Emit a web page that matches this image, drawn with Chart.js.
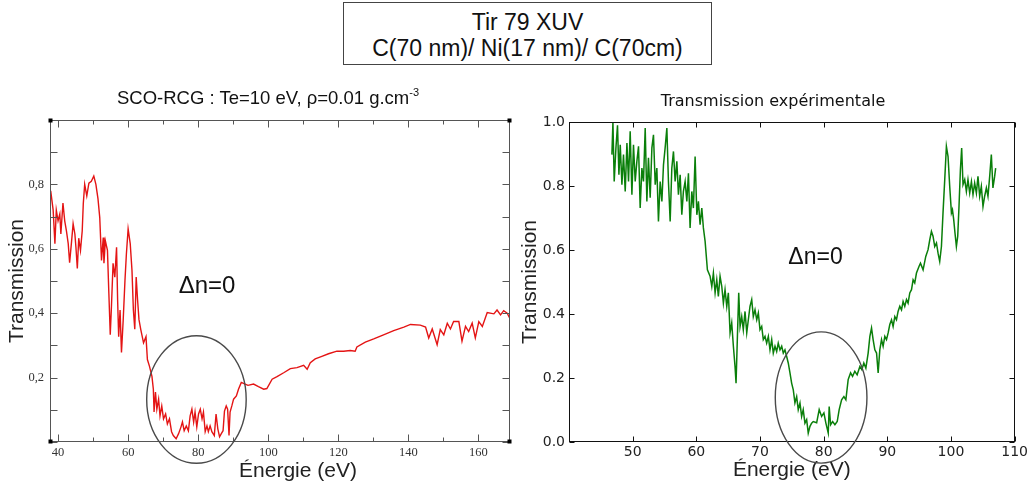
<!DOCTYPE html>
<html>
<head>
<meta charset="utf-8">
<script src="https://cdn.jsdelivr.net/npm/chart.js@4.4.1/dist/chart.umd.min.js"></script>
<style>
  body { margin: 0; width: 1030px; height: 483px; background: #fff; position: relative; overflow: hidden;
         font-family: "Liberation Sans", Arial, sans-serif; color: #111; }
  canvas { position: absolute; top: 80px; }
  #leftChart { left: 0; }
  #rightChart { left: 520px; }
  #box { position: absolute; left: 343px; top: 2px; width: 369px; height: 63px; box-sizing: border-box;
         border: 1px solid #444; text-align: center; font-size: 23px; line-height: 26px; padding-top: 6px; }
  .title { position: absolute; text-align: center; white-space: nowrap; }
  #t1 { left: 0; width: 536px; top: 87px; font-size: 18.5px; line-height: 22px; }
  #t1 sup { font-size: 11px; line-height: 0; vertical-align: 8px; }
  #t2 { left: 520px; width: 506px; top: 91px; font-family: "DejaVu Sans", sans-serif; font-size: 16px; line-height: 19px; }
  #xl { left: 198px; width: 200px; top: 459px; font-size: 21px; line-height: 21px; color: #222; }
  .dn { position: absolute; text-align: center; color: #111; }
</style>
</head>
<body>
<canvas id="leftChart" width="520" height="403"></canvas>
<canvas id="rightChart" width="510" height="403"></canvas>
<div id="box">Tir 79 XUV<br>C(70 nm)/ Ni(17 nm)/ C(70cm)</div>
<div class="title" id="t1">SCO-RCG : Te=10 eV, ρ=0.01 g.cm<sup>-3</sup></div>
<div class="title" id="t2">Transmission expérimentale</div>
<div class="title" id="xl">Énergie (eV)</div>
<div class="dn" style="left:150px; width:114px; top:273px; font-size:24px; line-height:24px;">Δn=0</div>
<div class="dn" style="left:760px; width:111px; top:245px; font-size:23px; line-height:23px;">Δn=0</div>
<script>
// SCO-RCG calculated transmission (left panel)
const leftEnergy = [37.9,38.6,39.1,39.5,40.0,40.5,40.8,41.4,41.9,42.4,
    42.9,43.3,43.8,44.3,44.8,45.1,45.5,45.9,46.4,46.9,
    47.2,47.6,48.2,48.8,49.5,50.2,50.8,51.4,51.9,52.4,
    52.9,53.1,53.5,54.1,54.5,54.9,55.2,55.7,56.2,56.7,
    57.0,57.3,57.7,58.1,58.6,59.1,59.5,60.0,60.6,61.1,
    61.5,61.9,62.3,62.7,63.1,63.6,64.4,65.1,65.5,66.1,
    66.8,67.2,67.4,67.8,68.2,68.7,69.1,69.6,70.1,70.7,
    71.2,71.8,72.4,72.9,73.7,74.4,75.1,75.5,76.0,76.6,
    77.2,77.7,78.2,78.7,79.1,79.6,80.1,80.6,81.1,81.5,
    82.0,82.5,82.9,83.4,83.9,84.6,85.1,85.6,86.1,86.6,
    87.1,87.5,88.0,88.4,88.8,89.1,89.6,90.1,90.9,91.5,
    92.3,93.4,94.2,95.8,97.2,98.7,99.6,101.1,102.5,104.4,
    106.3,108.2,110.1,111.1,112.0,113.4,115.3,117.2,119.6,121.5,
    123.4,124.8,125.3,127.7,130.1,132.9,135.8,138.7,140.6,143.4,
    144.9,145.8,146.8,148.2,149.1,150.1,151.1,152.0,152.9,154.4,
    155.3,156.3,157.2,158.2,159.1,160.1,161.1,162.5,164.4,165.3,
    166.3,167.2,168.2,168.9];
const leftTrans = [0.78,0.72,0.616,0.72,0.687,0.708,0.646,0.742,0.687,0.655,
    0.616,0.557,0.616,0.678,0.646,0.605,0.539,0.633,0.595,0.656,
    0.74,0.80,0.764,0.804,0.81,0.826,0.80,0.755,0.697,0.564,
    0.635,0.555,0.625,0.595,0.462,0.333,0.41,0.555,0.512,0.605,
    0.441,0.327,0.41,0.278,0.38,0.502,0.583,0.662,0.616,0.533,
    0.41,0.35,0.512,0.441,0.38,0.35,0.308,0.327,0.256,0.235,
    0.204,0.164,0.093,0.155,0.102,0.133,0.081,0.112,0.072,0.087,
    0.056,0.072,0.032,0.02,0.01,0.026,0.047,0.062,0.035,0.05,
    0.035,0.081,0.102,0.062,0.093,0.047,0.087,0.102,0.072,0.093,
    0.032,0.05,0.032,0.05,0.032,0.02,0.087,0.041,0.016,0.026,
    0.035,0.096,0.112,0.102,0.02,0.093,0.112,0.133,0.143,0.164,
    0.185,0.18,0.176,0.18,0.172,0.164,0.166,0.195,0.203,0.215,
    0.228,0.231,0.238,0.226,0.246,0.258,0.266,0.274,0.282,0.282,
    0.284,0.282,0.295,0.31,0.32,0.333,0.346,0.357,0.365,0.363,
    0.357,0.323,0.351,0.302,0.349,0.333,0.369,0.351,0.374,0.374,
    0.313,0.359,0.343,0.369,0.323,0.374,0.359,0.402,0.398,0.41,
    0.395,0.408,0.40,0.385];

// experimental transmission (right panel)
const rightEnergy = [46.74,46.9,47.1,47.37,47.62,47.84,48.05,48.31,48.56,48.83,
    49.1,49.35,49.61,49.88,50.13,50.4,50.66,50.92,51.18,51.45,
    51.7,51.97,52.23,52.48,52.75,53.02,53.27,53.54,53.8,54.05,
    54.32,54.59,54.84,55.1,55.37,55.62,55.89,56.15,56.41,56.67,
    56.94,57.19,57.46,57.72,57.97,58.24,58.51,58.76,59.02,59.29,
    59.54,59.81,60.08,60.33,60.59,60.86,61.11,61.38,61.74,62.16,
    62.43,62.68,62.95,63.21,63.46,63.73,64.0,64.25,64.51,64.78,
    65.03,65.3,65.56,65.82,66.08,66.24,66.44,66.66,66.87,67.13,
    67.38,67.65,67.92,68.17,68.43,68.7,68.95,69.22,69.49,69.74,
    70.0,70.27,70.52,70.79,71.05,71.31,71.57,71.84,72.09,72.36,
    72.62,72.87,73.14,73.41,73.66,73.92,74.19,74.44,74.71,74.97,
    75.23,75.49,75.76,76.01,76.28,76.54,76.79,77.06,77.33,77.58,
    77.85,78.11,78.36,78.9,79.3,79.68,80.04,80.35,80.72,80.87,
    81.09,81.41,81.77,82.13,82.44,82.82,83.18,83.49,83.85,84.23,
    84.54,84.9,85.26,85.69,86.0,86.31,86.63,86.99,87.26,87.52,
    87.77,88.04,88.31,88.56,88.82,89.09,89.34,89.61,89.87,90.13,
    90.39,90.66,90.91,91.18,91.44,91.69,91.96,92.23,92.48,92.74,
    93.01,93.26,93.53,93.8,94.05,94.31,94.58,94.99,95.21,95.62,
    96.04,96.4,96.67,96.93,97.18,97.45,97.72,97.97,98.23,98.5,
    98.75,99.02,99.28,99.54,99.8,100.07,100.23,100.43,100.63,100.85,
    101.06,101.26,101.48,101.68,101.89,102.16,102.42,102.67,102.94,103.21,
    103.46,103.72,103.99,104.24,104.51,104.77,105.03,105.29,105.56,105.81,
    106.08,106.34,106.59,106.86,107.02];
const rightTrans = [0.898,1.0,0.814,0.919,0.99,0.835,0.929,0.804,0.898,0.783,
    0.934,0.814,0.971,0.773,0.929,0.814,0.877,0.924,0.731,0.856,
    0.814,0.981,0.752,0.888,0.763,0.919,0.96,0.804,0.856,0.689,
    0.814,0.752,0.866,0.919,0.981,0.814,0.689,0.856,0.908,0.814,
    0.877,0.773,0.835,0.71,0.783,0.814,0.752,0.84,0.669,0.783,
    0.731,0.892,0.71,0.752,0.679,0.731,0.669,0.627,0.538,0.518,
    0.486,0.528,0.466,0.507,0.455,0.518,0.486,0.434,0.476,0.424,
    0.466,0.341,0.372,0.299,0.236,0.184,0.32,0.466,0.361,0.392,
    0.351,0.408,0.341,0.382,0.424,0.445,0.392,0.413,0.382,0.403,
    0.351,0.361,0.32,0.33,0.309,0.33,0.288,0.32,0.278,0.299,
    0.283,0.309,0.288,0.299,0.278,0.288,0.267,0.247,0.216,0.184,
    0.163,0.122,0.142,0.101,0.122,0.08,0.101,0.059,0.07,0.028,
    0.049,0.059,0.064,0.06,0.101,0.08,0.091,0.059,0.028,0.111,
    0.054,0.064,0.054,0.064,0.101,0.132,0.142,0.132,0.195,0.216,
    0.205,0.221,0.21,0.236,0.226,0.247,0.231,0.278,0.33,0.356,
    0.32,0.288,0.278,0.216,0.288,0.32,0.299,0.33,0.32,0.341,
    0.367,0.382,0.361,0.392,0.382,0.408,0.424,0.413,0.439,0.424,
    0.445,0.434,0.466,0.476,0.507,0.497,0.528,0.549,0.559,0.538,
    0.58,0.601,0.632,0.658,0.643,0.611,0.622,0.59,0.564,0.611,
    0.716,0.82,0.924,0.892,0.799,0.716,0.726,0.695,0.653,0.611,
    0.643,0.736,0.851,0.919,0.804,0.82,0.783,0.82,0.778,0.814,
    0.773,0.809,0.778,0.83,0.768,0.799,0.736,0.768,0.794,0.768,
    0.83,0.898,0.794,0.83,0.856];

// axis ticks
const leftXTicks = [40, 50, 60, 70, 80, 90, 100, 110, 120, 130, 140, 150, 160];
const leftXLabeled = [40, 60, 80, 100, 120, 140, 160];
const leftYTicks = [0, 0.1, 0.2, 0.3, 0.4, 0.5, 0.6, 0.7, 0.8, 0.9, 1];
const leftYLabeled = [0.2, 0.4, 0.6, 0.8];
const rightXTicks = [40, 50, 60, 70, 80, 90, 100, 110];
const rightYTicks = [0, 0.2, 0.4, 0.6, 0.8, 1];

// Δn=0 region marked on each panel (centre and half-axes in data units)
const leftCircle = { x: 79.5, y: 0.132, rx: 14.2, ry: 0.198 };
const rightCircle = { x: 79.6, y: 0.139, rx: 7.2, ry: 0.205 };

// frame with inward ticks on all four sides + the ellipse
const frameTicks = {
    id: "frameTicks",
    afterDraw(chart, args, o) {
        const { ctx, chartArea: a, scales } = chart;
        const l = Math.round(a.left) + 0.5, r = Math.round(a.right) - 0.5;
        const t = Math.round(a.top) + 0.5, b = Math.round(a.bottom) - 0.5;
        ctx.save();
        ctx.strokeStyle = o.color;
        ctx.lineWidth = 1;
        ctx.strokeRect(l, t, r - l, b - t);
        ctx.beginPath();
        o.xTicks.forEach(v => {
            const px = Math.round(scales.x.getPixelForValue(v)) + 0.5;
            const len = o.xMajor.includes(v) ? o.major : o.minor;
            ctx.moveTo(px, b); ctx.lineTo(px, b - len);
            ctx.moveTo(px, t); ctx.lineTo(px, t + len);
        });
        o.yTicks.forEach(v => {
            const py = Math.round(scales.y.getPixelForValue(v)) + 0.5;
            const len = o.yMajor.includes(v) ? o.major : o.minor;
            ctx.moveTo(l, py); ctx.lineTo(l + len, py);
            ctx.moveTo(r, py); ctx.lineTo(r - len, py);
        });
        ctx.stroke();
        if (o.corners) {
            ctx.fillStyle = "#000";
            [[l, t], [r, t], [l, b], [r, b]].forEach(([cx, cy]) => ctx.fillRect(cx - 2, cy - 2, 4, 4));
        }
        const e = o.ellipse;
        const cx = scales.x.getPixelForValue(e.x), cy = scales.y.getPixelForValue(e.y);
        const rx = scales.x.getPixelForValue(e.x + e.rx) - cx;
        const ry = cy - scales.y.getPixelForValue(e.y + e.ry);
        ctx.beginPath();
        ctx.strokeStyle = "#4a4a4a";
        ctx.lineWidth = 1.4;
        ctx.ellipse(cx, cy, rx, ry, 0, 0, Math.PI * 2);
        ctx.stroke();
        ctx.restore();
    }
};

const axisTitleFont = { family: "Liberation Sans", size: 21, lineHeight: 1 };

new Chart(document.getElementById("leftChart"), {
    type: "line",
    data: {
        datasets: [{
            data: leftEnergy.map((x, i) => ({ x: x, y: leftTrans[i] })),
            borderColor: "#e41414",
            borderWidth: 1.4,
            pointRadius: 0,
            tension: 0
        }]
    },
    options: {
        responsive: false,
        animation: false,
        events: [],
        layout: { padding: { top: 40, right: 10, left: 0, bottom: 0 } },
        plugins: {
            legend: { display: false },
            tooltip: { enabled: false },
            frameTicks: {
                color: "#555", major: 7, minor: 4, corners: true,
                xTicks: leftXTicks, xMajor: leftXLabeled,
                yTicks: leftYTicks, yMajor: leftYTicks,
                ellipse: leftCircle
            }
        },
        scales: {
            x: {
                type: "linear", min: 37.7, max: 169,
                afterBuildTicks: s => { s.ticks = leftXTicks.map(v => ({ value: v })); },
                afterFit: s => { s.height = 41; },
                grid: { display: false, drawTicks: false },
                border: { display: false },
                ticks: {
                    padding: 3, color: "#333", autoSkip: false, maxRotation: 0,
                    font: { family: "Liberation Serif", size: 12.5 },
                    callback: v => leftXLabeled.includes(v) ? String(v) : ""
                },
                // axis title placed as page text (#xl), offset from the axis centre as in the source
                title: { display: false }
            },
            y: {
                type: "linear", min: 0, max: 1,
                afterBuildTicks: s => { s.ticks = leftYTicks.map(v => ({ value: v })); },
                afterFit: s => { s.width = 50; },
                grid: { display: false, drawTicks: false },
                border: { display: false },
                ticks: {
                    padding: 6, color: "#333", autoSkip: false,
                    font: { family: "Liberation Serif", size: 12.5 },
                    callback: v => leftYLabeled.includes(v) ? v.toFixed(1).replace(".", ",") : ""
                },
                title: { display: true, text: "Transmission", color: "#222", font: axisTitleFont,
                         padding: { top: 7, bottom: 0 } }
            }
        }
    },
    plugins: [frameTicks]
});

new Chart(document.getElementById("rightChart"), {
    type: "line",
    data: {
        datasets: [{
            data: rightEnergy.map((x, i) => ({ x: x, y: rightTrans[i] })),
            borderColor: "#0a7f0a",
            borderWidth: 1.5,
            pointRadius: 0,
            tension: 0
        }]
    },
    options: {
        responsive: false,
        animation: false,
        events: [],
        layout: { padding: { top: 42, right: 15, left: 0, bottom: 0 } },
        plugins: {
            legend: { display: false },
            tooltip: { enabled: false },
            frameTicks: {
                color: "#111", major: 5, minor: 5, corners: false,
                xTicks: rightXTicks, xMajor: rightXTicks,
                yTicks: rightYTicks, yMajor: rightYTicks,
                ellipse: rightCircle
            }
        },
        scales: {
            x: {
                type: "linear", min: 40, max: 110,
                afterBuildTicks: s => { s.ticks = rightXTicks.map(v => ({ value: v })); },
                afterFit: s => { s.height = 41; },
                grid: { display: false, drawTicks: false },
                border: { display: false },
                ticks: {
                    padding: 2, color: "#222", autoSkip: false, maxRotation: 0,
                    font: { family: "DejaVu Sans", size: 14 },
                    callback: v => v === 40 ? "" : String(v)
                },
                title: { display: true, text: "Énergie (eV)", color: "#222", font: axisTitleFont,
                         padding: { top: 0, bottom: 2 } }
            },
            y: {
                type: "linear", min: 0, max: 1,
                afterBuildTicks: s => { s.ticks = rightYTicks.map(v => ({ value: v })); },
                afterFit: s => { s.width = 49; },
                grid: { display: false, drawTicks: false },
                border: { display: false },
                ticks: {
                    padding: 4, color: "#222", autoSkip: false,
                    font: { family: "DejaVu Sans", size: 14 },
                    callback: v => v.toFixed(1)
                },
                title: { display: true, text: "Transmission", color: "#222", font: axisTitleFont,
                         padding: { top: 0, bottom: 0 } }
            }
        }
    },
    plugins: [frameTicks]
});
</script>
</body>
</html>
